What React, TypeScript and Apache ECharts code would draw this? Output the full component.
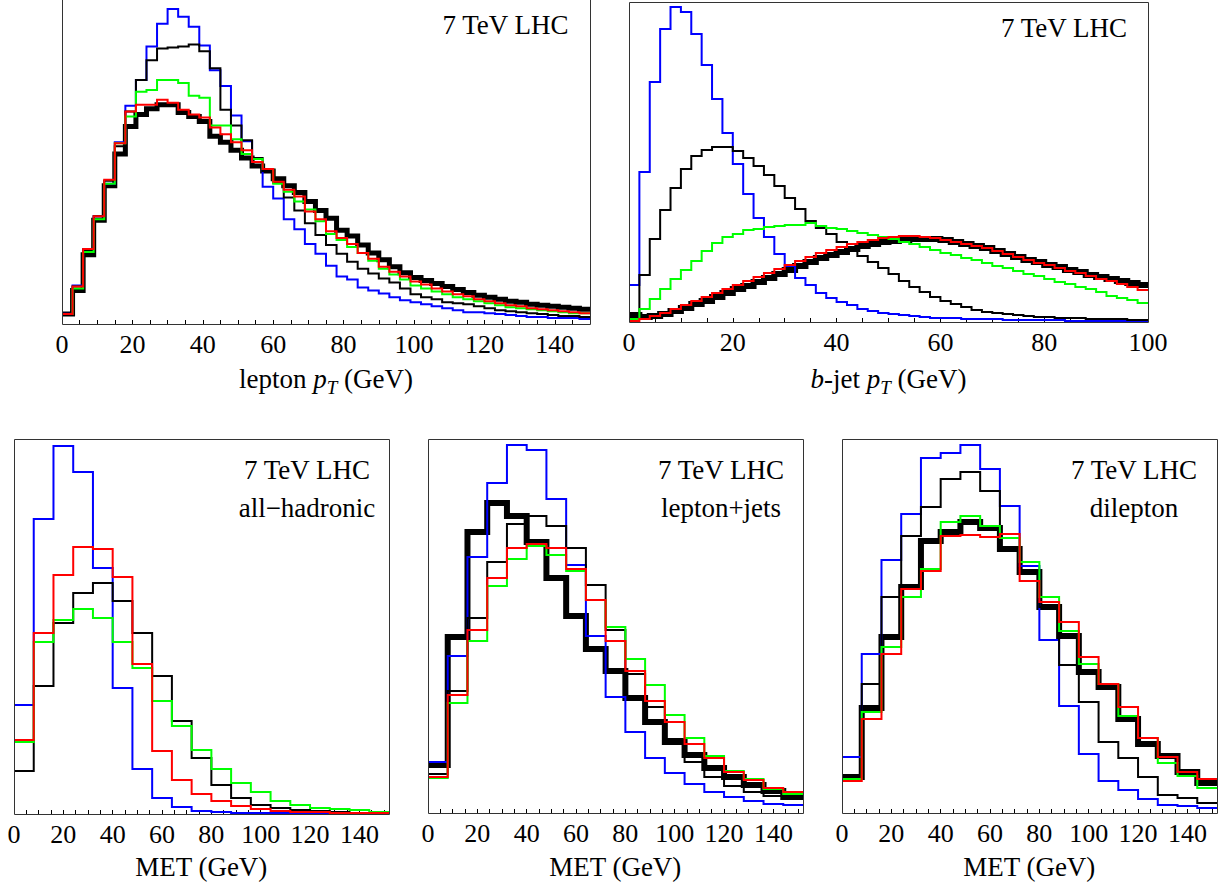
import { useEffect, useRef } from 'react';
import * as echarts from 'echarts';

// ---------- data (heights in arbitrary units) ----------
// Panel 1: lepton pT, 3 GeV bins from 0 to 150
const lepBinWidth = 3;
const lepBlue = [11, 39, 76, 109, 142, 184, 221, 247, 281, 304,
  319, 311, 301, 282, 257, 241, 211, 185, 164, 139,
  127, 106, 96, 81, 71, 59, 48, 45, 37, 34,
  31, 27, 24, 22, 20, 18, 16, 14, 12, 12,
  11, 10, 9, 8, 7, 7, 6, 6, 6, 5];
const lepBlackThin = [11, 38, 75, 109, 145, 180, 215, 247, 267, 279,
  280, 281, 283, 276, 259, 217, 201, 186, 168, 155,
  143, 128, 115, 102, 90, 80, 71, 63, 56, 51,
  46, 42, 36, 30, 27, 25, 22, 21, 20, 18,
  16, 14, 13, 12, 11, 10, 9, 8, 8, 7];
const lepGreen = [10, 36, 73, 106, 142, 183, 210, 235, 237, 247,
  247, 244, 231, 229, 201, 201, 187, 172, 167, 157,
  142, 134, 124, 116, 104, 91, 85, 78, 72, 64,
  56, 50, 45, 39, 36, 33, 30, 27, 25, 23,
  21, 19, 17, 16, 15, 14, 13, 12, 11, 11];
const lepRed = [10, 38, 76, 109, 146, 183, 215, 222, 222, 227,
  224, 217, 212, 209, 199, 192, 184, 176, 164, 157,
  144, 136, 129, 114, 106, 94, 87, 81, 72, 66,
  58, 53, 48, 43, 40, 36, 33, 30, 28, 25,
  23, 21, 19, 18, 16, 15, 14, 13, 12, 11];
const lepBlackThick = [10, 34, 70, 105, 140, 172, 200, 212, 218, 222,
  222, 214, 210, 205, 190, 184, 176, 168, 160, 155,
  147, 140, 133, 124, 115, 107, 95, 89, 80, 72,
  65, 58, 52, 47, 44, 41, 38, 35, 32, 29,
  27, 25, 23, 22, 20, 19, 18, 17, 16, 15];

// Panel 2: b-jet pT, 2 GeV bins from 0 to 100
const bjBinWidth = 2;
const bjBlue = [37, 150, 240, 293, 315, 310, 288, 257, 223, 189,
  158, 128, 104, 85, 68, 56, 44, 37, 29, 24,
  20, 17, 13, 11, 9, 8, 7, 6, 5, 4,
  4, 4, 3, 3, 3, 3, 2, 2, 2, 2,
  2, 2, 1, 1, 1, 1, 1, 1, 1, 1];
const bjBlackThin = [3, 47, 83, 112, 134, 153, 166, 172, 175, 175,
  171, 164, 156, 147, 136, 124, 113, 101, 94, 88,
  80, 73, 66, 60, 54, 48, 41, 35, 30, 25,
  21, 18, 15, 12, 10, 9, 8, 7, 6, 5,
  5, 4, 4, 4, 3, 3, 3, 3, 2, 2];
const bjGreen = [3, 13, 23, 33, 43, 52, 61, 71, 79, 85,
  88, 92, 93, 95, 96, 97, 97, 99, 96, 94,
  93, 91, 89, 87, 85, 83, 80, 78, 75, 72,
  69, 67, 64, 62, 59, 56, 54, 51, 48, 46,
  43, 40, 38, 35, 33, 30, 26, 24, 22, 19];
const bjRed = [1, 3, 6, 9, 13, 17, 21, 25, 29, 33,
  37, 41, 45, 49, 53, 57, 61, 65, 69, 72,
  75, 78, 80, 82, 84, 85, 86, 86, 85, 84,
  82, 80, 78, 76, 74, 71, 68, 65, 62, 59,
  57, 54, 51, 49, 46, 43, 41, 38, 35, 32];
const bjBlackThick = [7, 5, 6, 8, 11, 14, 18, 21, 25, 29,
  33, 36, 40, 44, 48, 52, 56, 60, 64, 67,
  70, 73, 76, 78, 80, 81, 82, 83, 83, 83,
  82, 80, 78, 76, 74, 71, 68, 65, 62, 60,
  57, 55, 52, 50, 47, 45, 43, 41, 39, 37];

// Panels 3-5: MET, 8 GeV bins from 0 to 152
const metBinWidth = 8;
const hadBlue = [109, 295, 368, 342, 246, 126, 45, 16, 7, 3, 2, 1, 1, 1, 0, 0, 0, 0, 0];
const hadRed = [74, 181, 239, 267, 265, 237, 150, 63, 34, 20, 13, 8, 5, 3, 2, 2, 1, 1, 1];
const hadBlack = [43, 128, 191, 221, 231, 213, 181, 138, 93, 56, 29, 16, 9, 6, 4, 3, 2, 1, 1];
const hadGreen = [72, 172, 194, 205, 196, 172, 146, 113, 88, 64, 45, 31, 22, 13, 9, 6, 5, 4, 2];

const ljBlue = [51, 157, 256, 330, 368, 363, 314, 248, 177, 116, 81, 55, 40, 29, 21, 16, 12, 9, 8];
const ljBlackThick = [48, 176, 281, 310, 297, 271, 235, 197, 164, 142, 115, 91, 71, 58, 45, 36, 28, 22, 16];
const ljBlackThin = [39, 122, 195, 251, 289, 297, 287, 265, 228, 183, 139, 106, 74, 51, 36, 27, 21, 17, 14];
const ljGreen = [35, 110, 172, 227, 254, 267, 258, 242, 213, 186, 154, 128, 98, 75, 57, 42, 34, 24, 19];
const ljRed = [36, 118, 183, 235, 265, 269, 265, 244, 213, 172, 142, 112, 91, 69, 55, 41, 33, 25, 21];

const dlBlue = [56, 159, 253, 299, 355, 360, 368, 344, 307, 247, 173, 107, 59, 32, 23, 14, 8, 7, 5];
const dlBlackThin = [37, 129, 216, 277, 306, 334, 341, 322, 266, 243, 206, 148, 111, 71, 55, 36, 18, 15, 10];
const dlBlackThick = [36, 105, 176, 226, 272, 281, 291, 285, 264, 241, 206, 177, 141, 126, 94, 69, 57, 41, 30];
const dlGreen = [34, 101, 166, 216, 244, 291, 297, 287, 275, 251, 216, 182, 149, 129, 97, 75, 50, 37, 25];
const dlRed = [32, 94, 159, 224, 242, 277, 278, 276, 279, 232, 211, 191, 156, 129, 106, 75, 56, 41, 34];

const tickLabelStep = 20;
const energyLabel = '7 TeV LHC';

// ---------- styling / layout ----------
const FONT = '"Liberation Serif", "Times New Roman", serif';
const BLUE = '#0000ff';
const GREEN = '#00ff00';
const RED = '#ff0000';
const BLACK = '#000000';
const FRAME = '#333333';
const TXT = 27;
const SUB = 19;

type Piece = { t: string; italic?: boolean; sub?: boolean };

const panels = [
  {
    grid: { left: 62, top: -4, width: 528, height: 328 }, xMax: 150, yMax: 328, bin: lepBinWidth, openTop: true,
    lines: [
      { v: lepBlackThick, c: BLACK, w: 5 }, { v: lepBlue, c: BLUE, w: 2 }, { v: lepBlackThin, c: BLACK, w: 2 },
      { v: lepGreen, c: GREEN, w: 2 }, { v: lepRed, c: RED, w: 2 },
    ],
    notes: [energyLabel], noteX: 505.5, noteY: 25,
    title: [{ t: 'lepton ' }, { t: 'p', italic: true }, { t: 'T', italic: true, sub: true }, { t: ' (GeV)' }] as Piece[],
    titleY: 379,
  },
  {
    grid: { left: 629, top: 2, width: 519, height: 320 }, xMax: 100, yMax: 320, bin: bjBinWidth, openTop: false,
    lines: [
      { v: bjBlackThick, c: BLACK, w: 6 }, { v: bjBlue, c: BLUE, w: 2 }, { v: bjBlackThin, c: BLACK, w: 2 },
      { v: bjGreen, c: GREEN, w: 2 }, { v: bjRed, c: RED, w: 2 },
    ],
    notes: [energyLabel], noteX: 1064, noteY: 27.5,
    title: [{ t: 'b', italic: true }, { t: '-jet ' }, { t: 'p', italic: true }, { t: 'T', italic: true, sub: true }, { t: ' (GeV)' }] as Piece[],
    titleY: 379,
  },
  {
    grid: { left: 14, top: 439, width: 375, height: 375 }, xMax: 152, yMax: 375, bin: metBinWidth, openTop: false,
    lines: [
      { v: hadBlue, c: BLUE, w: 2 }, { v: hadBlack, c: BLACK, w: 2 },
      { v: hadGreen, c: GREEN, w: 2 }, { v: hadRed, c: RED, w: 2 },
    ],
    notes: [energyLabel, 'all\u2212hadronic'], noteX: 307, noteY: 470,
    title: [{ t: 'MET (GeV)' }] as Piece[], titleY: 867,
  },
  {
    grid: { left: 428, top: 439, width: 375, height: 374 }, xMax: 152, yMax: 374, bin: metBinWidth, openTop: false,
    lines: [
      { v: ljBlackThick, c: BLACK, w: 6 }, { v: ljBlue, c: BLUE, w: 2 }, { v: ljBlackThin, c: BLACK, w: 2 },
      { v: ljGreen, c: GREEN, w: 2 }, { v: ljRed, c: RED, w: 2 },
    ],
    notes: [energyLabel, 'lepton+jets'], noteX: 721, noteY: 470,
    title: [{ t: 'MET (GeV)' }] as Piece[], titleY: 867,
  },
  {
    grid: { left: 842, top: 439, width: 375, height: 374 }, xMax: 152, yMax: 374, bin: metBinWidth, openTop: false,
    lines: [
      { v: dlBlackThick, c: BLACK, w: 6 }, { v: dlBlue, c: BLUE, w: 2 }, { v: dlBlackThin, c: BLACK, w: 2 },
      { v: dlGreen, c: GREEN, w: 2 }, { v: dlRed, c: RED, w: 2 },
    ],
    notes: [energyLabel, 'dilepton'], noteX: 1134, noteY: 470,
    title: [{ t: 'MET (GeV)' }] as Piece[], titleY: 867,
  },
];

function histPoints(values: number[], bin: number) {
  const pts = values.map((v, i) => [i * bin, v]);
  pts.push([values.length * bin, values[values.length - 1]]);
  return pts;
}

function textEl(text: string, x: number, y: number, size: number, italic: boolean, align: string) {
  return {
    type: 'text',
    silent: true,
    z: 100,
    style: {
      text, x, y,
      fontFamily: FONT, fontSize: size, fontStyle: italic ? 'italic' : 'normal',
      fill: '#000',
      textAlign: align, align,
      textVerticalAlign: 'middle', verticalAlign: 'middle',
    },
  };
}

export default function App() {
  const ref = useRef<HTMLDivElement>(null);

  useEffect(() => {
    if (!ref.current) return;
    const chart = echarts.init(ref.current, null, { renderer: 'svg' });
    const ctx = document.createElement('canvas').getContext('2d')!;
    const measure = (t: string, size: number, italic: boolean) => {
      ctx.font = `${italic ? 'italic ' : ''}${size}px ${FONT}`;
      return ctx.measureText(t).width;
    };

    const grids: any[] = [];
    const xAxes: any[] = [];
    const yAxes: any[] = [];
    const series: any[] = [];
    const graphics: any[] = [];

    panels.forEach((p, i) => {
      grids.push({ ...p.grid, show: false, containLabel: false });
      xAxes.push({
        type: 'value', gridIndex: i, min: 0, max: p.xMax, interval: 5,
        axisLine: { show: false },
        axisTick: { show: true, inside: true, length: 4, lineStyle: { color: '#000', width: 1 } },
        axisLabel: {
          show: true, margin: 7, color: '#000', fontFamily: FONT, fontSize: 26,
          showMinLabel: true, showMaxLabel: true,
          formatter: (v: number) => (v % tickLabelStep === 0 ? String(v) : ''),
        },
        splitLine: { show: false },
      });
      yAxes.push({ type: 'value', gridIndex: i, min: 0, max: p.yMax, show: false, splitLine: { show: false } });
      p.lines.forEach((l) => {
        series.push({
          type: 'line', xAxisIndex: i, yAxisIndex: i, step: 'end', symbol: 'none', showSymbol: false,
          silent: true, data: histPoints(l.v, p.bin),
          lineStyle: { color: l.c, width: l.w, join: 'miter', cap: 'butt' },
        });
      });
      // frame
      const L = p.grid.left + 0.5;
      const R = p.grid.left + p.grid.width + 0.5;
      const T = p.grid.top + 0.5;
      const B = p.grid.top + p.grid.height + 0.5;
      const pts = p.openTop ? [[L, 0], [L, B], [R, B], [R, 0]] : [[L, T], [L, B], [R, B], [R, T], [L, T]];
      graphics.push({
        type: 'polyline', silent: true, z: 50,
        shape: { points: pts },
        style: { stroke: FRAME, lineWidth: 1, fill: null },
      });
      p.notes.forEach((n, k) => graphics.push(textEl(n, p.noteX, p.noteY + k * 38, TXT, false, 'center')));
      const widths = p.title.map((pc) => measure(pc.t, pc.sub ? SUB : TXT, !!pc.italic));
      const total = widths.reduce((a, b) => a + b, 0);
      let x = p.grid.left + p.grid.width / 2 - total / 2;
      p.title.forEach((pc, k) => {
        graphics.push(textEl(pc.t, x, pc.sub ? p.titleY + 8.5 : p.titleY, pc.sub ? SUB : TXT, !!pc.italic, 'left'));
        x += widths[k];
      });
    });

    chart.setOption({
      animation: false,
      backgroundColor: '#fff',
      grid: grids,
      xAxis: xAxes,
      yAxis: yAxes,
      series,
      graphic: graphics,
    });
    return () => chart.dispose();
  }, []);

  return <div ref={ref} style={{ position: 'absolute', left: 0, top: 0, width: 1226, height: 888, background: '#fff' }} />;
}
